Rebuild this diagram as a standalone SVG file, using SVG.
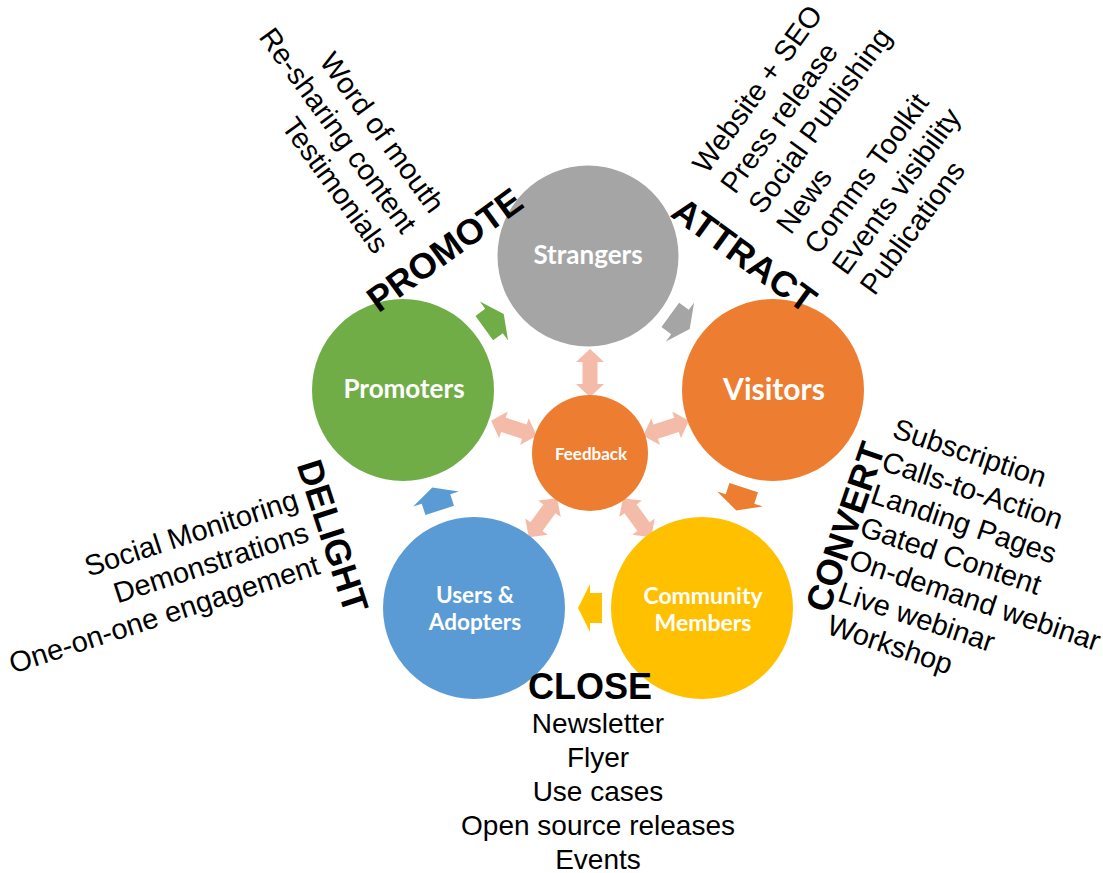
<svg xmlns="http://www.w3.org/2000/svg" width="1103" height="873" viewBox="0 0 1103 873">
<defs>
<style>
.lbl{font-family:Lato,"Open Sans",sans-serif;font-weight:700;fill:#fff;text-anchor:middle}
.lst{font-family:"Liberation Sans",Arial,sans-serif;font-size:29px;fill:#000}
.hdr{font-family:"Liberation Sans",Arial,sans-serif;font-size:36px;font-weight:700;fill:#000;text-anchor:middle}
.fb{fill:#F4BCA8}
</style>
<path id="blk" d="M-12,-15 L0,-15 L0,-24 L12,0 L0,24 L0,15 L-12,15 Z"/>
<path id="dbl" d="M56,0 L69,-14 L69,-7.5 L91,-7.5 L91,-14 L104,0 L91,14 L91,7.5 L69,7.5 L69,14 Z"/>
</defs>
<rect width="1103" height="873" fill="#fff"/>

<g id="connectors">
<use href="#blk" fill="#70AD47" transform="translate(494,321) rotate(-36)"/>
<use href="#blk" fill="#A5A5A5" transform="translate(680,322) rotate(36)"/>
<use href="#blk" fill="#ED7D31" transform="translate(740,499) rotate(108)"/>
<use href="#blk" fill="#FFC000" transform="translate(590,608) rotate(180)"/>
<use href="#blk" fill="#5B9BD5" transform="translate(436,499) rotate(252)"/>
<use href="#dbl" class="fb" transform="translate(590,453) rotate(-90)"/>
<use href="#dbl" class="fb" transform="translate(590,453) rotate(-18)"/>
<use href="#dbl" class="fb" transform="translate(590,453) rotate(54)"/>
<use href="#dbl" class="fb" transform="translate(590,453) rotate(126)"/>
<use href="#dbl" class="fb" transform="translate(590,453) rotate(198)"/>
</g>

<g id="strangers">
<circle cx="588" cy="256" r="90.5" fill="#A5A5A5"/>
<text class="lbl" x="588" y="264" font-size="26">Strangers</text>
</g>
<g id="visitors">
<circle cx="773" cy="390" r="91" fill="#ED7D31"/>
<text class="lbl" x="774" y="400" font-size="30">Visitors</text>
</g>
<g id="community">
<circle cx="702" cy="608" r="91" fill="#FFC000"/>
<text class="lbl" x="703" y="604" font-size="23">Community</text>
<text class="lbl" x="703" y="631" font-size="23">Members</text>
</g>
<g id="users">
<circle cx="474" cy="608" r="91" fill="#5B9BD5"/>
<text class="lbl" x="475" y="603" font-size="22.5">Users &amp;</text>
<text class="lbl" x="475" y="630" font-size="22.5">Adopters</text>
</g>
<g id="promoters">
<circle cx="403" cy="390" r="91" fill="#70AD47"/>
<text class="lbl" x="404" y="398" font-size="26">Promoters</text>
</g>
<g id="feedback">
<circle cx="590" cy="453" r="58" fill="#ED7D31"/>
<text class="lbl" x="591" y="460" font-size="17">Feedback</text>
</g>

<g id="promote">
<text class="hdr" transform="translate(452,260) rotate(-36)">PROMOTE</text>
<g class="lst" text-anchor="end" transform="translate(430,215) rotate(54)">
<text x="0" y="0">Word of mouth</text>
<text x="0" y="34.5">Re-sharing content</text>
<text x="0" y="69">Testimonials</text>
</g>
</g>

<g id="attract">
<text class="hdr" transform="translate(737,265) rotate(36)">ATTRACT</text>
<g class="lst" transform="translate(707,175) rotate(-54)">
<text x="0" y="0">Website + SEO</text>
<text x="0" y="34.5">Press release</text>
<text x="0" y="69">Social Publishing</text>
<text x="0" y="103.5">News</text>
<text x="0" y="138">Comms Toolkit</text>
<text x="0" y="172.5">Events visibility</text>
<text x="0" y="207">Publications</text>
</g>
</g>

<g id="convert">
<text class="hdr" transform="translate(857,531) rotate(-71)">CONVERT</text>
<g class="lst" transform="translate(891,437) rotate(18.5)">
<text x="0" y="0">Subscription</text>
<text x="0" y="34.5">Calls-to-Action</text>
<text x="0" y="69">Landing Pages</text>
<text x="0" y="103.5">Gated Content</text>
<text x="0" y="138">On-demand webinar</text>
<text x="0" y="172.5">Live webinar</text>
<text x="0" y="207">Workshop</text>
</g>
</g>

<g id="close">
<text class="hdr" x="590" y="699">CLOSE</text>
<g class="lst" text-anchor="middle">
<text x="598" y="733" font-size="28">Newsletter</text>
<text x="598" y="767" font-size="28">Flyer</text>
<text x="598" y="801" font-size="28">Use cases</text>
<text x="598" y="835" font-size="28">Open source releases</text>
<text x="598" y="869" font-size="28">Events</text>
</g>
</g>

<g id="delight">
<text class="hdr" transform="translate(321,540) rotate(72)">DELIGHT</text>
<g class="lst" text-anchor="end" transform="translate(300,508) rotate(-18)">
<text x="0" y="0">Social Monitoring</text>
<text x="0" y="34.5">Demonstrations</text>
<text x="0" y="69">One-on-one engagement</text>
</g>
</g>
</svg>
